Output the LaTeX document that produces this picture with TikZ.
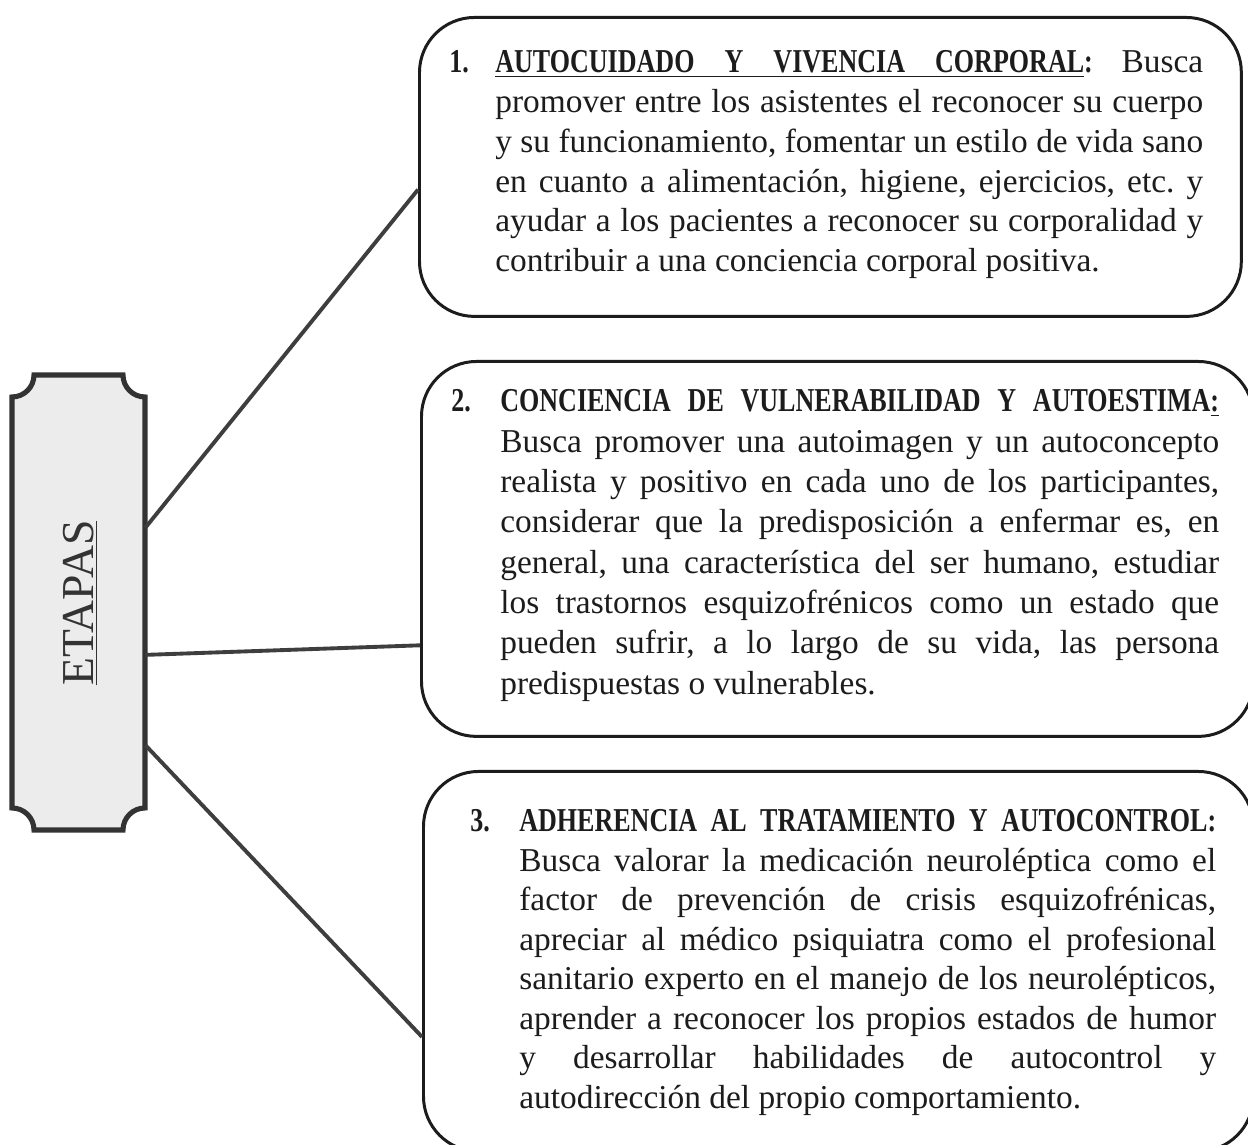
\documentclass[tikz,border=0pt]{standalone}
\usepackage{fontspec}
\setmainfont{Liberation Serif}[BoldFeatures={FakeStretch=0.78}]
\usetikzlibrary{calc}
\definecolor{ink}{HTML}{1C1C1C}
\definecolor{etafill}{HTML}{ECECEC}
\definecolor{etaink}{HTML}{333333}
\tikzset{
  bigbox/.style={draw=ink, line width=1.7pt, rounded corners=1.1cm, fill=white, inner sep=0pt, anchor=north west},
  conn/.style={draw=ink!85, line width=2.2pt},
  txt/.style={inner sep=0pt, anchor=base west, align=justify, text=ink,
    font=\fontsize{19}{22.6}\selectfont\frenchspacing},
}
\begin{document}
\begin{tikzpicture}[x=0.02cm, y=0.02cm]
\useasboundingbox (0,0) rectangle (1248,1145);
\clip (0,0) rectangle (1248,1145);
\fill[white] (0,0) rectangle (1248,1145);

% ETAPAS frame
\node[inner sep=0pt, minimum width=2.66cm, minimum height=9.1cm] (etapas) at (78.5,542.5) {};
\draw[draw=etaink, line width=2.9pt, fill=etafill]
  (12,748) arc[start angle=270, end angle=360, radius=0.44cm]
  -- (123,770) arc[start angle=180, end angle=270, radius=0.44cm]
  -- (145,337) arc[start angle=90, end angle=180, radius=0.44cm]
  -- (34,315) arc[start angle=0, end angle=90, radius=0.44cm]
  -- cycle;
\node[rotate=90, inner sep=0pt, text=etaink, font=\fontsize{26}{30}\selectfont] (etalbl) at (80,542) {\underline{ETAPAS}};

% boxes
\node[bigbox, minimum width=16.44cm, minimum height=5.98cm] (box1) at (418,1129) {};
\node[bigbox, minimum width=16.64cm, minimum height=7.5cm] (box2) at (420,785) {};
\node[bigbox, minimum width=16.6cm, minimum height=7.6cm] (box3) at (422,375) {};

% connectors
\draw[conn] ($(etapas.north east)!0.336!(etapas.south east)$) -- ($(box1.north west)!0.575!(box1.south west)$);
\draw[conn] ($(etapas.north east)!0.615!(etapas.south east)$) -- ($(box2.north west)!0.755!(box2.south west)$);
\draw[conn] ($(etapas.north east)!0.813!(etapas.south east)$) -- ($(box3.north west)!0.697!(box3.south west)$);

% texts
\node[txt, text width=14.16cm] (t1) at (495,1072) {\noindent\llap{\makebox[0.92cm][l]{\textbf{1.}}}\textbf{\underline{\makebox[11.78cm][s]{AUTOCUIDADO Y VIVENCIA CORPORAL}}:}\hfill Busca\linebreak
promover entre los asistentes el reconocer su cuerpo\linebreak
y su funcionamiento, fomentar un estilo de vida sano\linebreak
en cuanto a alimentación, higiene, ejercicios, etc. y\linebreak
ayudar a los pacientes a reconocer su corporalidad y\linebreak
contribuir a una conciencia corporal positiva.};

\node[txt, text width=14.38cm, font=\fontsize{19}{22.95}\selectfont\frenchspacing] (t2) at (500,733) {\noindent\llap{\makebox[0.98cm][l]{\textbf{2.}}}\textbf{CONCIENCIA DE VULNERABILIDAD Y AUTOESTIMA\underline{:}}\linebreak
Busca promover una autoimagen y un autoconcepto\linebreak
realista y positivo en cada uno de los participantes,\linebreak
considerar que la predisposición a enfermar es, en\linebreak
general, una característica del ser humano, estudiar\linebreak
los trastornos esquizofrénicos como un estado que\linebreak
pueden sufrir, a lo largo de su vida, las persona\linebreak
predispuestas o vulnerables.};

\node[txt, text width=13.94cm, font=\fontsize{19}{22.45}\selectfont\frenchspacing] (t3) at (519,313) {\noindent\llap{\makebox[0.98cm][l]{\textbf{3.}}}\textbf{ADHERENCIA AL TRATAMIENTO Y AUTOCONTROL:}\linebreak
Busca valorar la medicación neuroléptica como el\linebreak
factor de prevención de crisis esquizofrénicas,\linebreak
apreciar al médico psiquiatra como el profesional\linebreak
sanitario experto en el manejo de los neurolépticos,\linebreak
aprender a reconocer los propios estados de humor\linebreak
y desarrollar habilidades de autocontrol y\linebreak
autodirección del propio comportamiento.};
\end{tikzpicture}
\end{document}
